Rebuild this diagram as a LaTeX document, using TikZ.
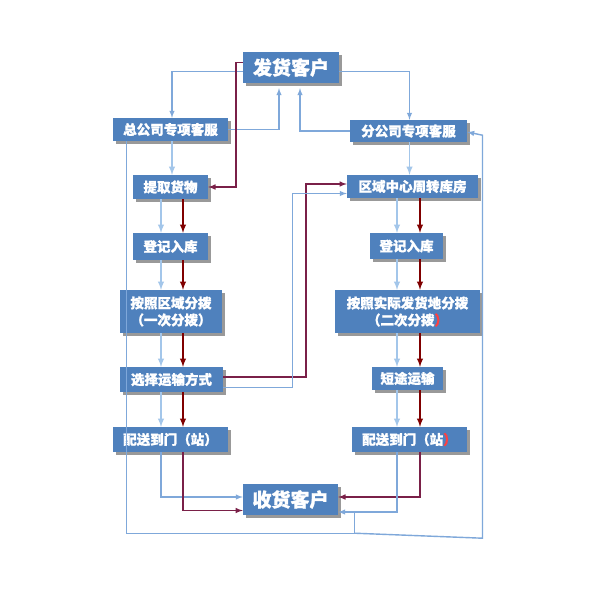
\documentclass[tikz,border=0pt]{standalone}
\usepackage{fontspec}
\newfontfamily\cjk{Noto Sans CJK SC}[BoldFeatures={FakeBold=1.2}]
\usetikzlibrary{shadows,calc}
\definecolor{boxblue}{HTML}{4F81BD}
\definecolor{lineblue}{HTML}{7FA8DA}
\definecolor{arrowblue}{HTML}{A3C6EA}
\definecolor{lineplum}{HTML}{7A2048}
\definecolor{arrowred}{HTML}{800000}

\begin{document}
\begin{tikzpicture}[x=1pt,y=-1pt,>=latex,
    box/.style={fill=boxblue,text=white,inner sep=0pt,align=center,
        font=\cjk\bfseries\fontsize{13.5}{17}\selectfont,
        drop shadow={shadow xshift=2.5pt,shadow yshift=-2.5pt,fill=black!40,opacity=1}},
    bigbox/.style={box,font=\cjk\bfseries\fontsize{19}{21}\selectfont},
    blueline/.style={lineblue,line width=1.4pt},
    redline/.style={lineplum,line width=1.5pt},
    bluearrow/.style={arrowblue,line width=1.8pt,->},
    redarrow/.style={arrowred,line width=1.8pt,->}]
    \fill[white] (0,0) rectangle (595,595);
    \useasboundingbox (0,0) rectangle (595,595);

    %customers
    \node[bigbox,minimum width=96pt,minimum height=31pt] (fh) at (291,67.5) {发货客户};
    \node[bigbox,minimum width=95pt,minimum height=31pt] (sh) at (290.5,499.5) {收货客户};

    %left column
    \node[box,minimum width=115pt,minimum height=23pt] (zkf) at (170.5,129.5) {总公司专项客服};
    \node[box,minimum width=75pt,minimum height=24pt] (tq) at (170.5,187) {提取货物};
    \node[box,minimum width=75pt,minimum height=27pt] (dj1) at (170.5,246.5) {登记入库};
    \node[box,minimum width=102pt,minimum height=43pt] (fb1) at (171,311.5) {按照区域分拨\\（一次分拨）};
    \node[box,minimum width=103pt,minimum height=25pt] (ys) at (171.5,379.5) {选择运输方式};
    \node[box,minimum width=115pt,minimum height=25pt] (ps1) at (170.5,439.5) {配送到门（站）};

    %right column
    \node[box,minimum width=117pt,minimum height=22pt] (fkf) at (408.5,131) {分公司专项客服};
    \node[box,minimum width=131pt,minimum height=23pt] (qy) at (412.5,186.5) {区域中心周转库房};
    \node[box,minimum width=73pt,minimum height=26pt] (dj2) at (406.5,246) {登记入库};
    \node[box,minimum width=145pt,minimum height=43pt] (fb2) at (407.5,311.5) {按照实际发货地分拨\\（二次分拨\textcolor{red!75}{）}};
    \node[box,minimum width=71pt,minimum height=23pt] (dt) at (407.5,378.5) {短途运输};
    \node[box,minimum width=115pt,minimum height=25pt] (ps2) at (409.5,439.5) {配送到门（站\textcolor{red!75}{）}};

    %x positions of the paired arrows
    \coordinate (lb) at (161,0);
    \coordinate (lr) at (183,0);
    \coordinate (rb) at (397,0);
    \coordinate (rr) at (420,0);

    %top connectors
    \draw[blueline,->] ($(fh.west)+(0,4)$) -| ($(zkf.north)+(1.5,0)$);
    \draw[blueline,->] ($(fh.east)+(0,4)$) -| ($(fkf.north)+(1,0)$);
    \draw[blueline,->] (zkf.east) -| ($(fh.south)+(-12,5)$);
    \draw[blueline,->] (fkf.west) -| ($(fh.south)+(9,5)$);
    \draw[redline,->] ($(fh.west)+(0,-5)$) -- ++(-7,0) |- (tq.east);
    \draw[bluearrow] ($(zkf.south)+(1.5,0)$) -- ($(tq.north)+(1.5,0)$);
    \draw[bluearrow] ($(fkf.south)+(1,0)$) -- ($(fkf.south |- qy.north)+(1,0)$);

    %paired arrows down both columns
    \foreach \a/\b in {tq/dj1,dj1/fb1,fb1/ys,ys/ps1} {
        \draw[bluearrow] (lb |- \a.south) -- (lb |- \b.north);
        \draw[redarrow] (lr |- \a.south) -- (lr |- \b.north);
    }
    \foreach \a/\b in {qy/dj2,dj2/fb2,fb2/dt,dt/ps2} {
        \draw[bluearrow] (rb |- \a.south) -- (rb |- \b.north);
        \draw[redarrow] (rr |- \a.south) -- (rr |- \b.north);
    }

    %transport to the regional warehouse
    \draw[redline,->] ($(ys.east)+(0,-2.5)$) -- ++(83,0) |- ($(qy.west)+(0,-2.5)$);
    \draw[blueline,->] ($(ys.east)+(0,8)$) -- ++(69,0) |- ($(qy.west)+(0,7)$);

    %delivery to the receiving customer
    \draw[blueline,->] (lb |- ps1.south) |- ($(sh.west)+(0,-2.5)$);
    \draw[redline,->] (lr |- ps1.south) |- ($(sh.west)+(0,11)$);
    \draw[redline,->] (rr |- ps2.south) |- ($(sh.east)+(0,-2.5)$);
    \draw[blueline,->] (rb |- ps2.south) |- ($(sh.east)+(0,12.5)$);

    %outer feedback loop
    \draw[blueline] ($(zkf.south)+(-44,0)$) |- ++(228,392) coordinate (loopb) -- ++(0,-21);
    \draw[blueline,->] (loopb) -- ++(128,5) -- ++(0,-403) -- ($(fkf.east)+(0,1)$);
\end{tikzpicture}
\end{document}
